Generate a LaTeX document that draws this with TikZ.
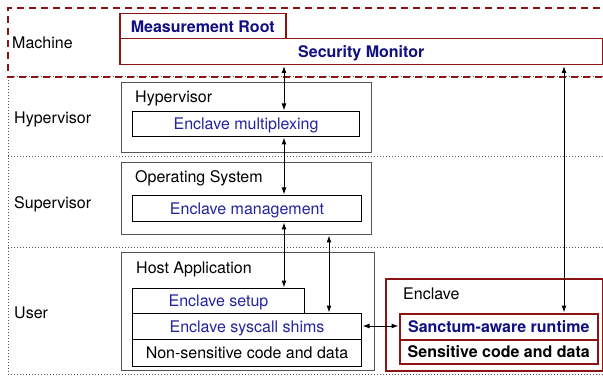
\documentclass[tikz,border=0pt]{standalone}
\usepackage{fontspec}
\setmainfont{TeX Gyre Heros}
\usetikzlibrary{arrows.meta}
\definecolor{mred}{RGB}{140,20,20}
\definecolor{mnavy}{RGB}{15,15,130}
\definecolor{mblue}{RGB}{35,35,160}
\definecolor{mgray}{RGB}{85,85,85}
\tikzset{
  bx/.style={draw, inner sep=0pt, anchor=north west, text height=11.6pt, text depth=0pt,
             font=\fontsize{16}{19}\selectfont, line width=1pt},
  outerbox/.style={bx, draw=mgray},
  innerbox/.style={bx, draw=black, text=mblue},
  redbox/.style={bx, draw=mred, line width=1.5pt, text=mnavy, font=\fontsize{16}{19}\selectfont\bfseries},
  lbl/.style={inner sep=0pt, anchor=base west, font=\fontsize{16}{19}\selectfont},
  dots/.style={draw=mgray, line width=1pt, dash pattern=on 1pt off 2pt},
  machinebox/.style={draw=mred, line width=1.5pt, dash pattern=on 7pt off 5pt},
  arr/.style={line width=1pt, {Latex[length=7pt,width=5pt]}-{Latex[length=7pt,width=5pt]}, shorten <=0.5pt, shorten >=0.5pt}
}
\begin{document}
\begin{tikzpicture}[x=1pt, y=-1pt]
\useasboundingbox (0,0) rectangle (603,377);
% privilege level separators
\draw[dots] (8,77) -- (603,77);
\draw[dots] (8,157) -- (603,157);
\draw[dots] (8,247) -- (603,247);
\draw[dots] (8,374) -- (603,374);
\draw[dots] (8,77) -- (8,374);
% machine region
\draw[machinebox] (612,8) -- (8,8) -- (8,77) -- (612,77);
% level labels
\node[lbl] (lmach) at (12,49) {Machine};
\node[lbl] (lhyp) at (14,124) {Hypervisor};
\node[lbl] (lsup) at (14,208) {Supervisor};
\node[lbl] (luser) at (14,318) {User};
% machine boxes
\node[redbox, minimum width=166pt, minimum height=25pt] (MR) at (119,13) {Measurement Root};
\node[redbox, minimum width=483pt, minimum height=26pt] (SM) at (119,38) {Security Monitor};
% hypervisor
\node[outerbox, minimum width=250pt, minimum height=70pt] (hyp) at (121,82) {};
\node[lbl] (hyplbl) at (135,103) {Hypervisor};
\node[innerbox, minimum width=227pt, minimum height=25pt] (mux) at (132,111) {Enclave multiplexing};
% supervisor
\node[outerbox, minimum width=250pt, minimum height=72pt] (os) at (121,162) {};
\node[lbl] (oslbl) at (135,183) {Operating System};
\node[innerbox, minimum width=229pt, minimum height=26pt] (mgmt) at (132,195) {Enclave management};
% user: host application
\node[outerbox, minimum width=253pt, minimum height=118pt] (host) at (121,252) {};
\node[lbl] (hostlbl) at (136,273) {Host Application};
\node[innerbox, minimum width=172pt, minimum height=25pt] (setup) at (132,288) {Enclave setup};
\node[innerbox, minimum width=229pt, minimum height=26pt] (shims) at (132,313) {Enclave syscall shims};
\node[innerbox, text=black, minimum width=229pt, minimum height=27pt] (nons) at (132,339) {Non-sensitive code and data};
% user: enclave
\node[redbox, minimum width=217pt, minimum height=92pt] (encl) at (385,278) {};
\node[lbl] (encllbl) at (403,299) {Enclave};
\node[redbox, minimum width=198pt, minimum height=26pt] (rt) at (399,313) {Sanctum-aware runtime};
\node[redbox, text=black, minimum width=198pt, minimum height=24pt] (sens) at (399,339) {Sensitive code and data};
% connectors
\coordinate (c1) at (284,0);
\coordinate (c2) at (329,0);
\coordinate (c3) at (564,0);
\coordinate (c4) at (0,326);
\draw[arr] (c1 |- SM.south) -- (c1 |- mux.north);
\draw[arr] (c1 |- mux.south) -- (c1 |- mgmt.north);
\draw[arr] (c1 |- mgmt.south) -- (c1 |- setup.north);
\draw[arr] (c2 |- os.south) -- (c2 |- shims.north);
\draw[arr] (shims.east |- c4) -- (rt.west |- c4);
\draw[arr] (c3 |- SM.south) -- (c3 |- rt.north);
\end{tikzpicture}
\end{document}
